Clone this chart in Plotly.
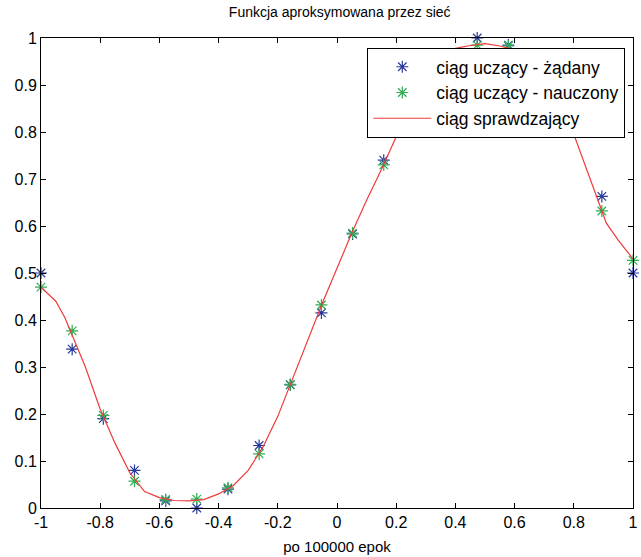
import plotly.graph_objects as go

# training set inputs
train_x = [-1.0, -0.8947, -0.7895, -0.6842, -0.5789, -0.4737, -0.3684, -0.2632, -0.1579, -0.0526,
           0.0526, 0.1579, 0.2632, 0.3684, 0.4737, 0.5789, 0.6842, 0.7895, 0.8947, 1.0]
# desired outputs (blue)
train_target = [0.500, 0.338, 0.190, 0.080, 0.015, 0.000, 0.040, 0.133, 0.262, 0.415,
                0.583, 0.740, 0.870, 0.960, 1.000, 0.985, 0.920, 0.800, 0.663, 0.500]
# learned outputs (green)
train_learned = [0.470, 0.377, 0.197, 0.057, 0.018, 0.019, 0.043, 0.115, 0.263, 0.432,
                 0.585, 0.730, 0.860, 0.950, 0.985, 0.983, 0.930, 0.800, 0.632, 0.527]
# test set (red line)
test_x = [-1.00, -0.95, -0.92, -0.85, -0.80, -0.75, -0.70, -0.65, -0.60, -0.55, -0.50, -0.45,
          -0.40, -0.35, -0.30, -0.25, -0.20, -0.15, -0.10, -0.05, 0.00, 0.05, 0.10, 0.15,
          0.20, 0.25, 0.30, 0.35, 0.40, 0.45, 0.50, 0.55, 0.60, 0.65, 0.70, 0.75, 0.80,
          0.85, 0.91, 0.95, 1.00]
test_y = [0.470, 0.440, 0.406, 0.300, 0.210, 0.138, 0.075, 0.035, 0.022, 0.016, 0.015, 0.018,
          0.030, 0.048, 0.080, 0.130, 0.195, 0.275, 0.355, 0.435, 0.510, 0.585, 0.655, 0.720,
          0.790, 0.860, 0.915, 0.955, 0.978, 0.984, 0.988, 0.983, 0.975, 0.945, 0.900, 0.850,
          0.795, 0.710, 0.606, 0.570, 0.530]

x_ticks = [-1, -0.8, -0.6, -0.4, -0.2, 0, 0.2, 0.4, 0.6, 0.8, 1]
x_tick_text = ["-1", "-0.8", "-0.6", "-0.4", "-0.2", "0", "0.2", "0.4", "0.6", "0.8", "1"]
y_ticks = [0, 0.1, 0.2, 0.3, 0.4, 0.5, 0.6, 0.7, 0.8, 0.9, 1]
y_tick_text = ["0", "0.1", "0.2", "0.3", "0.4", "0.5", "0.6", "0.7", "0.8", "0.9", "1"]

names = ["ciąg uczący - żądany", "ciąg uczący - nauczony", "ciąg sprawdzający"]

FONT = "Liberation Sans, Arial, Helvetica, sans-serif"
BLUE = "#2a3a9c"
GREEN = "#2fae52"
RED = "#f03a3a"

fig = go.Figure()
fig.add_trace(go.Scatter(x=train_x, y=train_target, mode="markers", name=names[0],
                         legendgroup="a", cliponaxis=False,
                         marker=dict(symbol="asterisk-open", size=10, color=BLUE,
                                     line=dict(color=BLUE, width=1.2))))
fig.add_trace(go.Scatter(x=train_x, y=train_learned, mode="markers", name=names[1],
                         legendgroup="b", cliponaxis=False,
                         marker=dict(symbol="asterisk-open", size=10, color=GREEN,
                                     line=dict(color=GREEN, width=1.2))))
fig.add_trace(go.Scatter(x=test_x, y=test_y, mode="lines", name=names[2],
                         legendgroup="c", cliponaxis=False,
                         line=dict(color=RED, width=1.2)))

axis_common = dict(showline=True, linecolor="black", linewidth=1, mirror="ticks",
                   ticks="inside", ticklen=5, tickcolor="black", showgrid=False,
                   zeroline=False, ticklabeloverflow="allow",
                   tickfont=dict(family=FONT, size=16, color="black"))

fig.update_layout(
    width=641, height=557,
    margin=dict(l=41, r=3, t=38, b=49),
    paper_bgcolor="white", plot_bgcolor="white",
    font=dict(family=FONT, color="black"),
    title=dict(text="Funkcja aproksymowana przez sieć", x=0.53, xanchor="center",
               y=0.978, yanchor="middle", yref="container",
               font=dict(family=FONT, size=14, color="black")),
    xaxis=dict(range=[-1, 1], tickvals=x_ticks, ticktext=x_tick_text,
               title=dict(text="po 100000 epok", standoff=11,
                          font=dict(family=FONT, size=15, color="black")),
               **axis_common),
    yaxis=dict(range=[0, 1], tickvals=y_ticks, ticktext=y_tick_text, **axis_common),
    legend=dict(x=0.987, xanchor="right", y=0.979, yanchor="top",
                bgcolor="white", bordercolor="black", borderwidth=1,
                font=dict(family=FONT, size=17.5, color="black"),
                itemwidth=58, tracegroupgap=0, traceorder="grouped"),
    showlegend=True,
)

fig.write_html("out.html", config={"displayModeBar": False},
               post_script="document.body.style.margin='0';document.body.style.overflow='hidden';")
